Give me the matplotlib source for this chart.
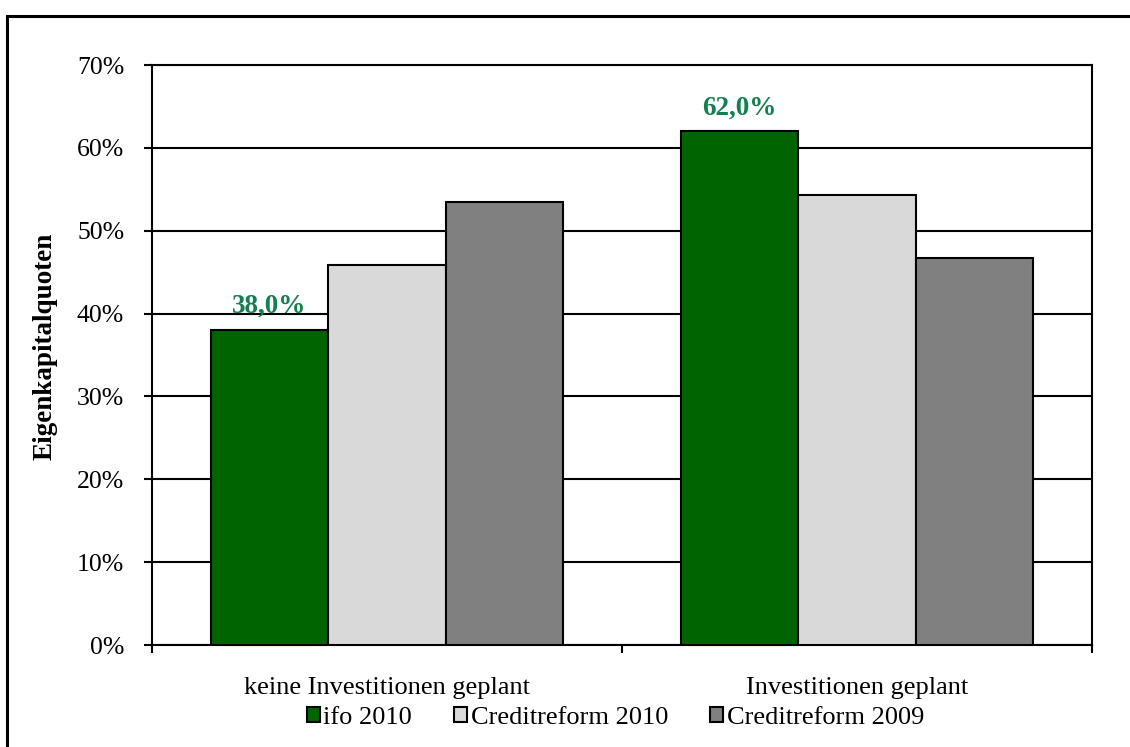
import numpy as np
import matplotlib.pyplot as plt
from matplotlib.patches import Rectangle

plt.rcParams['font.family'] = ['Liberation Serif', 'DejaVu Serif']

# Daten
categories = ['keine Investitionen geplant', 'Investitionen geplant']
series = ['ifo 2010', 'Creditreform 2010', 'Creditreform 2009']
values = [
    [38.0, 62.0],   # ifo 2010
    [45.9, 54.3],   # Creditreform 2010
    [53.5, 46.7],   # Creditreform 2009
]
colors = ['#006400', '#D9D9D9', '#808080']
yticks = [0, 10, 20, 30, 40, 50, 60, 70]

fig = plt.figure(figsize=(11.3, 7.47), dpi=100)
ax = fig.add_axes([152 / 1130, 1 - 645 / 747, 940 / 1130, 580 / 747])

x = np.arange(len(categories))
w = 0.25
for i, name in enumerate(series):
    bars = ax.bar(x + (i - 1) * w, values[i], w, color=colors[i],
                  edgecolor='black', linewidth=1.5, label=name, zorder=3)
    if i == 0:
        for b, v in zip(bars, values[i]):
            ax.annotate(f'{v:.1f}%'.replace('.', ','),
                        (b.get_x() + b.get_width() / 2, v),
                        xytext=(0, 8), textcoords='offset points',
                        ha='center', va='bottom', fontsize=19.5,
                        fontweight='bold', color='#138050', zorder=4)

ax.set_xlim(-0.5, 1.5)
ax.set_ylim(0, 70)
ax.set_yticks(yticks)
ax.set_yticklabels([f'{t}%' for t in yticks], fontsize=18.5)
ax.yaxis.grid(True, color='black', linewidth=1.5, zorder=0)
ax.tick_params(axis='y', direction='out', length=6, width=1.5, pad=14)

ax.set_xticks(x)
ax.set_xticklabels(categories, fontsize=19)
ax.tick_params(axis='x', which='major', length=0, pad=23)
ax.set_xticks([-0.5, 0.5, 1.5], minor=True)
ax.tick_params(axis='x', which='minor', direction='out', length=6, width=1.5)

for s in ax.spines.values():
    s.set_linewidth(1.5)
    s.set_color('black')

ax.set_ylabel('Eigenkapitalquoten', fontsize=19.5, fontweight='bold')
ax.yaxis.set_label_coords(-0.100, 0.515)

ax.legend(loc='center', bbox_to_anchor=(0.493, -0.125), ncol=3, frameon=False,
          fontsize=19, handlelength=0.5, handleheight=0.5,
          handletextpad=0.12, columnspacing=1.6, borderpad=0)

# Rahmen um das Diagramm
fig.add_artist(Rectangle((7 / 1130, -0.1), 1.2, 1 - 16 / 747 + 0.1,
                         transform=fig.transFigure, fill=False,
                         edgecolor='black', linewidth=2.2))

fig.savefig('out.png', dpi=100)
